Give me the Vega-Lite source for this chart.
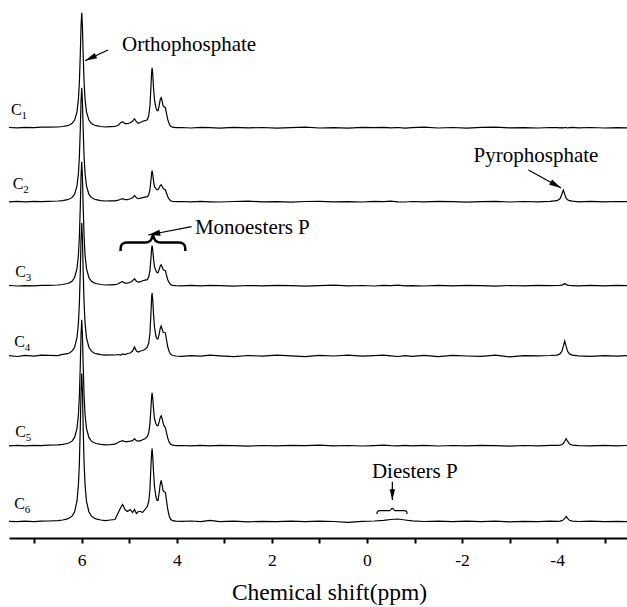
{
"$schema": "https://vega.github.io/schema/vega-lite/v6.json",
"width": 618, "height": 538,
"autosize": {"type": "none"},
"padding": {"left": 9, "top": 0, "right": 0, "bottom": 69},
"background": "white",
"config": {"view": {"stroke": null}, "font": "Liberation Serif"},
"datasets": {
"spectra": [
{"t":"C1","ppm":7.53,"v":410.5},{"t":"C1","ppm":7.35,"v":410.1},{"t":"C1","ppm":7.2,"v":410.6},{"t":"C1","ppm":7.0,"v":410.3},{"t":"C1","ppm":6.85,"v":410.8},
{"t":"C1","ppm":6.7,"v":410.9},{"t":"C1","ppm":6.5,"v":411.0},{"t":"C1","ppm":6.4,"v":411.5},{"t":"C1","ppm":6.3,"v":412.3},{"t":"C1","ppm":6.25,"v":413.2},{"t":"C1","ppm":6.2,"v":414.7},{"t":"C1","ppm":6.15,"v":417.9},{"t":"C1","ppm":6.1,"v":426.2},{"t":"C1","ppm":6.07,"v":438.6},{"t":"C1","ppm":6.05,"v":455.2},{"t":"C1","ppm":6.03,"v":483.9},{"t":"C1","ppm":6.015,"v":511.2},{"t":"C1","ppm":6.0,"v":525.3},{"t":"C1","ppm":5.985,"v":511.2},{"t":"C1","ppm":5.97,"v":483.9},{"t":"C1","ppm":5.95,"v":455.2},{"t":"C1","ppm":5.93,"v":438.6},{"t":"C1","ppm":5.9,"v":426.2},{"t":"C1","ppm":5.85,"v":417.9},{"t":"C1","ppm":5.8,"v":414.7},{"t":"C1","ppm":5.75,"v":413.2},{"t":"C1","ppm":5.7,"v":412.3},{"t":"C1","ppm":5.6,"v":411.5},{"t":"C1","ppm":5.5,"v":411.0},
{"t":"C1","ppm":5.4,"v":411.3},{"t":"C1","ppm":5.3,"v":411.5},{"t":"C1","ppm":5.23,"v":412.8},{"t":"C1","ppm":5.18,"v":415.3},{"t":"C1","ppm":5.14,"v":416.3},{"t":"C1","ppm":5.09,"v":414.3},{"t":"C1","ppm":5.04,"v":414.3},{"t":"C1","ppm":4.98,"v":415.3},{"t":"C1","ppm":4.93,"v":416.8},{"t":"C1","ppm":4.89,"v":419.3},{"t":"C1","ppm":4.85,"v":416.3},{"t":"C1","ppm":4.81,"v":414.8},{"t":"C1","ppm":4.76,"v":415.8},{"t":"C1","ppm":4.72,"v":416.8},{"t":"C1","ppm":4.67,"v":417.3},{"t":"C1","ppm":4.62,"v":418.3},{"t":"C1","ppm":4.59,"v":422.3},{"t":"C1","ppm":4.565,"v":432.3},{"t":"C1","ppm":4.545,"v":450.3},{"t":"C1","ppm":4.53,"v":465.3},{"t":"C1","ppm":4.52,"v":470.3},{"t":"C1","ppm":4.505,"v":463.3},{"t":"C1","ppm":4.49,"v":450.3},{"t":"C1","ppm":4.47,"v":438.3},{"t":"C1","ppm":4.44,"v":430.3},{"t":"C1","ppm":4.415,"v":427.3},{"t":"C1","ppm":4.395,"v":427.3},{"t":"C1","ppm":4.37,"v":432.3},{"t":"C1","ppm":4.35,"v":438.3},{"t":"C1","ppm":4.33,"v":440.3},{"t":"C1","ppm":4.31,"v":437.3},{"t":"C1","ppm":4.29,"v":432.3},{"t":"C1","ppm":4.27,"v":431.3},{"t":"C1","ppm":4.24,"v":430.3},{"t":"C1","ppm":4.22,"v":425.3},{"t":"C1","ppm":4.19,"v":418.3},{"t":"C1","ppm":4.16,"v":414.3},{"t":"C1","ppm":4.13,"v":411.8},{"t":"C1","ppm":4.09,"v":410.8},{"t":"C1","ppm":4.02,"v":410.3},
{"t":"C1","ppm":3.9,"v":410.5},{"t":"C1","ppm":3.7,"v":410.0},{"t":"C1","ppm":3.5,"v":410.6},{"t":"C1","ppm":3.3,"v":410.3},{"t":"C1","ppm":3.1,"v":409.9},{"t":"C1","ppm":2.8,"v":410.7},{"t":"C1","ppm":2.5,"v":410.1},{"t":"C1","ppm":2.2,"v":410.5},{"t":"C1","ppm":1.9,"v":409.9},{"t":"C1","ppm":1.6,"v":410.4},{"t":"C1","ppm":1.3,"v":410.8},{"t":"C1","ppm":1.0,"v":410.0},{"t":"C1","ppm":0.7,"v":410.4},{"t":"C1","ppm":0.4,"v":409.9},{"t":"C1","ppm":0.1,"v":410.6},{"t":"C1","ppm":-0.15,"v":410.3},{"t":"C1","ppm":-0.35,"v":410.7},{"t":"C1","ppm":-0.5,"v":410.1},{"t":"C1","ppm":-0.65,"v":410.5},{"t":"C1","ppm":-0.8,"v":409.8},{"t":"C1","ppm":-0.95,"v":410.4},{"t":"C1","ppm":-1.2,"v":410.8},{"t":"C1","ppm":-1.5,"v":410.0},{"t":"C1","ppm":-1.8,"v":410.5},{"t":"C1","ppm":-2.1,"v":409.9},{"t":"C1","ppm":-2.4,"v":410.6},{"t":"C1","ppm":-2.7,"v":410.9},{"t":"C1","ppm":-3.0,"v":410.1},{"t":"C1","ppm":-3.3,"v":410.4},{"t":"C1","ppm":-3.6,"v":410.0},{"t":"C1","ppm":-3.85,"v":410.5},
{"t":"C1","ppm":-4.0,"v":410.3},{"t":"C1","ppm":-4.06,"v":410.1},{"t":"C1","ppm":-4.1,"v":410.4},{"t":"C1","ppm":-4.13,"v":410.2},{"t":"C1","ppm":-4.16,"v":410.5},{"t":"C1","ppm":-4.19,"v":410.3},{"t":"C1","ppm":-4.22,"v":410.0},{"t":"C1","ppm":-4.26,"v":410.4},{"t":"C1","ppm":-4.32,"v":410.6},
{"t":"C1","ppm":-4.45,"v":410.1},{"t":"C1","ppm":-4.7,"v":410.5},{"t":"C1","ppm":-5.0,"v":410.0},{"t":"C1","ppm":-5.25,"v":410.4},{"t":"C1","ppm":-5.47,"v":410.2},

{"t":"C2","ppm":7.53,"v":336.1},{"t":"C2","ppm":7.35,"v":336.6},{"t":"C2","ppm":7.2,"v":336.2},{"t":"C2","ppm":7.0,"v":336.7},{"t":"C2","ppm":6.85,"v":336.4},
{"t":"C2","ppm":6.7,"v":336.6},{"t":"C2","ppm":6.5,"v":337.0},{"t":"C2","ppm":6.4,"v":337.4},{"t":"C2","ppm":6.3,"v":338.3},{"t":"C2","ppm":6.25,"v":339.2},{"t":"C2","ppm":6.2,"v":340.6},{"t":"C2","ppm":6.15,"v":343.8},{"t":"C2","ppm":6.1,"v":352.0},{"t":"C2","ppm":6.07,"v":364.3},{"t":"C2","ppm":6.05,"v":380.8},{"t":"C2","ppm":6.03,"v":409.3},{"t":"C2","ppm":6.015,"v":436.3},{"t":"C2","ppm":6.0,"v":450.3},{"t":"C2","ppm":5.985,"v":436.3},{"t":"C2","ppm":5.97,"v":409.3},{"t":"C2","ppm":5.95,"v":380.8},{"t":"C2","ppm":5.93,"v":364.3},{"t":"C2","ppm":5.9,"v":352.0},{"t":"C2","ppm":5.85,"v":343.8},{"t":"C2","ppm":5.8,"v":340.6},{"t":"C2","ppm":5.75,"v":339.2},{"t":"C2","ppm":5.7,"v":338.3},{"t":"C2","ppm":5.6,"v":337.4},{"t":"C2","ppm":5.5,"v":337.0},
{"t":"C2","ppm":5.4,"v":337.1},{"t":"C2","ppm":5.3,"v":337.1},{"t":"C2","ppm":5.23,"v":337.8},{"t":"C2","ppm":5.18,"v":338.8},{"t":"C2","ppm":5.14,"v":339.3},{"t":"C2","ppm":5.09,"v":338.3},{"t":"C2","ppm":5.04,"v":338.3},{"t":"C2","ppm":4.98,"v":339.3},{"t":"C2","ppm":4.93,"v":340.3},{"t":"C2","ppm":4.89,"v":342.3},{"t":"C2","ppm":4.85,"v":340.3},{"t":"C2","ppm":4.81,"v":339.3},{"t":"C2","ppm":4.76,"v":339.8},{"t":"C2","ppm":4.72,"v":340.3},{"t":"C2","ppm":4.67,"v":340.8},{"t":"C2","ppm":4.62,"v":341.3},{"t":"C2","ppm":4.59,"v":343.3},{"t":"C2","ppm":4.565,"v":348.3},{"t":"C2","ppm":4.545,"v":357.3},{"t":"C2","ppm":4.53,"v":364.3},{"t":"C2","ppm":4.52,"v":367.3},{"t":"C2","ppm":4.505,"v":363.3},{"t":"C2","ppm":4.49,"v":357.3},{"t":"C2","ppm":4.47,"v":351.3},{"t":"C2","ppm":4.44,"v":349.3},{"t":"C2","ppm":4.415,"v":348.3},{"t":"C2","ppm":4.395,"v":348.3},{"t":"C2","ppm":4.37,"v":350.3},{"t":"C2","ppm":4.35,"v":352.3},{"t":"C2","ppm":4.33,"v":353.3},{"t":"C2","ppm":4.31,"v":351.8},{"t":"C2","ppm":4.29,"v":349.8},{"t":"C2","ppm":4.27,"v":348.8},{"t":"C2","ppm":4.24,"v":348.3},{"t":"C2","ppm":4.22,"v":345.3},{"t":"C2","ppm":4.19,"v":341.3},{"t":"C2","ppm":4.16,"v":338.8},{"t":"C2","ppm":4.13,"v":337.3},{"t":"C2","ppm":4.09,"v":336.7},{"t":"C2","ppm":4.02,"v":336.3},
{"t":"C2","ppm":3.9,"v":336.5},{"t":"C2","ppm":3.7,"v":336.1},{"t":"C2","ppm":3.5,"v":336.6},{"t":"C2","ppm":3.3,"v":336.2},{"t":"C2","ppm":3.1,"v":336.0},{"t":"C2","ppm":2.8,"v":336.5},{"t":"C2","ppm":2.5,"v":336.8},{"t":"C2","ppm":2.2,"v":336.2},{"t":"C2","ppm":1.9,"v":336.4},{"t":"C2","ppm":1.6,"v":335.9},{"t":"C2","ppm":1.3,"v":336.5},{"t":"C2","ppm":1.0,"v":336.7},{"t":"C2","ppm":0.7,"v":336.1},{"t":"C2","ppm":0.4,"v":336.4},{"t":"C2","ppm":0.1,"v":336.0},{"t":"C2","ppm":-0.15,"v":336.6},{"t":"C2","ppm":-0.35,"v":336.3},{"t":"C2","ppm":-0.5,"v":336.8},{"t":"C2","ppm":-0.65,"v":336.2},{"t":"C2","ppm":-0.8,"v":336.0},{"t":"C2","ppm":-0.95,"v":336.5},{"t":"C2","ppm":-1.2,"v":336.1},{"t":"C2","ppm":-1.5,"v":336.7},{"t":"C2","ppm":-1.8,"v":336.3},{"t":"C2","ppm":-2.1,"v":335.9},{"t":"C2","ppm":-2.4,"v":336.4},{"t":"C2","ppm":-2.7,"v":336.6},{"t":"C2","ppm":-3.0,"v":336.0},{"t":"C2","ppm":-3.3,"v":336.5},{"t":"C2","ppm":-3.6,"v":336.2},{"t":"C2","ppm":-3.85,"v":336.6},
{"t":"C2","ppm":-4.0,"v":337.3},{"t":"C2","ppm":-4.06,"v":339.2},{"t":"C2","ppm":-4.1,"v":343.8},{"t":"C2","ppm":-4.13,"v":348.0},{"t":"C2","ppm":-4.16,"v":343.8},{"t":"C2","ppm":-4.19,"v":339.9},{"t":"C2","ppm":-4.22,"v":338.2},{"t":"C2","ppm":-4.26,"v":337.3},{"t":"C2","ppm":-4.32,"v":336.8},
{"t":"C2","ppm":-4.45,"v":336.2},{"t":"C2","ppm":-4.7,"v":336.6},{"t":"C2","ppm":-5.0,"v":336.1},{"t":"C2","ppm":-5.25,"v":336.5},{"t":"C2","ppm":-5.47,"v":336.3},

{"t":"C3","ppm":7.53,"v":252.5},{"t":"C3","ppm":7.35,"v":252.0},{"t":"C3","ppm":7.2,"v":252.4},{"t":"C3","ppm":7.0,"v":252.1},{"t":"C3","ppm":6.85,"v":252.6},
{"t":"C3","ppm":6.7,"v":252.7},{"t":"C3","ppm":6.5,"v":253.0},{"t":"C3","ppm":6.4,"v":253.5},{"t":"C3","ppm":6.3,"v":254.5},{"t":"C3","ppm":6.25,"v":255.4},{"t":"C3","ppm":6.2,"v":257.0},{"t":"C3","ppm":6.15,"v":260.5},{"t":"C3","ppm":6.1,"v":269.4},{"t":"C3","ppm":6.07,"v":282.8},{"t":"C3","ppm":6.05,"v":300.7},{"t":"C3","ppm":6.03,"v":331.7},{"t":"C3","ppm":6.015,"v":361.0},{"t":"C3","ppm":6.0,"v":376.3},{"t":"C3","ppm":5.985,"v":361.0},{"t":"C3","ppm":5.97,"v":331.7},{"t":"C3","ppm":5.95,"v":300.7},{"t":"C3","ppm":5.93,"v":282.8},{"t":"C3","ppm":5.9,"v":269.4},{"t":"C3","ppm":5.85,"v":260.5},{"t":"C3","ppm":5.8,"v":257.0},{"t":"C3","ppm":5.75,"v":255.4},{"t":"C3","ppm":5.7,"v":254.5},{"t":"C3","ppm":5.6,"v":253.5},{"t":"C3","ppm":5.5,"v":253.0},
{"t":"C3","ppm":5.4,"v":253.1},{"t":"C3","ppm":5.3,"v":253.3},{"t":"C3","ppm":5.23,"v":254.3},{"t":"C3","ppm":5.18,"v":255.8},{"t":"C3","ppm":5.14,"v":256.3},{"t":"C3","ppm":5.09,"v":254.8},{"t":"C3","ppm":5.04,"v":254.8},{"t":"C3","ppm":4.98,"v":255.8},{"t":"C3","ppm":4.93,"v":257.3},{"t":"C3","ppm":4.89,"v":259.3},{"t":"C3","ppm":4.85,"v":256.8},{"t":"C3","ppm":4.81,"v":255.8},{"t":"C3","ppm":4.76,"v":256.3},{"t":"C3","ppm":4.72,"v":257.3},{"t":"C3","ppm":4.67,"v":257.8},{"t":"C3","ppm":4.62,"v":258.3},{"t":"C3","ppm":4.59,"v":261.3},{"t":"C3","ppm":4.565,"v":267.3},{"t":"C3","ppm":4.545,"v":279.3},{"t":"C3","ppm":4.53,"v":289.3},{"t":"C3","ppm":4.52,"v":292.3},{"t":"C3","ppm":4.505,"v":287.3},{"t":"C3","ppm":4.49,"v":279.3},{"t":"C3","ppm":4.47,"v":271.3},{"t":"C3","ppm":4.44,"v":267.3},{"t":"C3","ppm":4.415,"v":265.3},{"t":"C3","ppm":4.395,"v":265.3},{"t":"C3","ppm":4.37,"v":268.8},{"t":"C3","ppm":4.35,"v":271.8},{"t":"C3","ppm":4.33,"v":273.3},{"t":"C3","ppm":4.31,"v":271.3},{"t":"C3","ppm":4.29,"v":268.8},{"t":"C3","ppm":4.27,"v":267.8},{"t":"C3","ppm":4.24,"v":267.3},{"t":"C3","ppm":4.22,"v":263.3},{"t":"C3","ppm":4.19,"v":258.3},{"t":"C3","ppm":4.16,"v":255.3},{"t":"C3","ppm":4.13,"v":253.5},{"t":"C3","ppm":4.09,"v":252.7},{"t":"C3","ppm":4.02,"v":252.3},
{"t":"C3","ppm":3.9,"v":252.1},{"t":"C3","ppm":3.7,"v":252.6},{"t":"C3","ppm":3.5,"v":252.2},{"t":"C3","ppm":3.3,"v":252.7},{"t":"C3","ppm":3.1,"v":252.3},{"t":"C3","ppm":2.8,"v":251.9},{"t":"C3","ppm":2.5,"v":252.5},{"t":"C3","ppm":2.2,"v":252.1},{"t":"C3","ppm":1.9,"v":252.7},{"t":"C3","ppm":1.6,"v":252.4},{"t":"C3","ppm":1.3,"v":251.9},{"t":"C3","ppm":1.0,"v":252.3},{"t":"C3","ppm":0.7,"v":252.8},{"t":"C3","ppm":0.4,"v":252.2},{"t":"C3","ppm":0.1,"v":252.5},{"t":"C3","ppm":-0.15,"v":252.0},{"t":"C3","ppm":-0.35,"v":252.6},{"t":"C3","ppm":-0.5,"v":252.3},{"t":"C3","ppm":-0.65,"v":252.8},{"t":"C3","ppm":-0.8,"v":252.1},{"t":"C3","ppm":-0.95,"v":252.4},{"t":"C3","ppm":-1.2,"v":252.0},{"t":"C3","ppm":-1.5,"v":252.6},{"t":"C3","ppm":-1.8,"v":252.2},{"t":"C3","ppm":-2.1,"v":252.7},{"t":"C3","ppm":-2.4,"v":252.3},{"t":"C3","ppm":-2.7,"v":251.9},{"t":"C3","ppm":-3.0,"v":252.5},{"t":"C3","ppm":-3.3,"v":252.1},{"t":"C3","ppm":-3.6,"v":252.6},{"t":"C3","ppm":-3.85,"v":252.3},
{"t":"C3","ppm":-4.0,"v":252.5},{"t":"C3","ppm":-4.06,"v":252.6},{"t":"C3","ppm":-4.1,"v":252.9},{"t":"C3","ppm":-4.13,"v":253.6},{"t":"C3","ppm":-4.16,"v":254.3},{"t":"C3","ppm":-4.19,"v":253.6},{"t":"C3","ppm":-4.22,"v":252.9},{"t":"C3","ppm":-4.26,"v":252.5},{"t":"C3","ppm":-4.32,"v":252.4},
{"t":"C3","ppm":-4.45,"v":252.1},{"t":"C3","ppm":-4.7,"v":252.6},{"t":"C3","ppm":-5.0,"v":252.2},{"t":"C3","ppm":-5.25,"v":252.7},{"t":"C3","ppm":-5.47,"v":252.3},

{"t":"C4","ppm":7.53,"v":182.3},{"t":"C4","ppm":7.35,"v":181.5},{"t":"C4","ppm":7.2,"v":182.6},{"t":"C4","ppm":7.0,"v":181.8},{"t":"C4","ppm":6.85,"v":182.9},
{"t":"C4","ppm":6.7,"v":182.7},{"t":"C4","ppm":6.5,"v":182.4},{"t":"C4","ppm":6.4,"v":183.6},{"t":"C4","ppm":6.3,"v":184.3},{"t":"C4","ppm":6.25,"v":185.3},{"t":"C4","ppm":6.2,"v":187.1},{"t":"C4","ppm":6.15,"v":190.8},{"t":"C4","ppm":6.1,"v":200.4},{"t":"C4","ppm":6.07,"v":214.7},{"t":"C4","ppm":6.05,"v":233.9},{"t":"C4","ppm":6.03,"v":267.1},{"t":"C4","ppm":6.015,"v":298.6},{"t":"C4","ppm":6.0,"v":315.0},{"t":"C4","ppm":5.985,"v":298.6},{"t":"C4","ppm":5.97,"v":267.1},{"t":"C4","ppm":5.95,"v":233.9},{"t":"C4","ppm":5.93,"v":214.7},{"t":"C4","ppm":5.9,"v":200.4},{"t":"C4","ppm":5.85,"v":190.8},{"t":"C4","ppm":5.8,"v":187.1},{"t":"C4","ppm":5.75,"v":185.3},{"t":"C4","ppm":5.7,"v":184.3},{"t":"C4","ppm":5.6,"v":183.3},{"t":"C4","ppm":5.5,"v":182.8},
{"t":"C4","ppm":5.4,"v":183.1},{"t":"C4","ppm":5.3,"v":183.0},{"t":"C4","ppm":5.23,"v":183.5},{"t":"C4","ppm":5.18,"v":183.0},{"t":"C4","ppm":5.14,"v":184.0},{"t":"C4","ppm":5.09,"v":183.5},{"t":"C4","ppm":5.04,"v":184.5},{"t":"C4","ppm":4.98,"v":185.0},{"t":"C4","ppm":4.93,"v":187.0},{"t":"C4","ppm":4.89,"v":191.0},{"t":"C4","ppm":4.85,"v":187.0},{"t":"C4","ppm":4.81,"v":186.0},{"t":"C4","ppm":4.76,"v":187.0},{"t":"C4","ppm":4.72,"v":187.5},{"t":"C4","ppm":4.67,"v":188.5},{"t":"C4","ppm":4.62,"v":191.0},{"t":"C4","ppm":4.59,"v":195.0},{"t":"C4","ppm":4.565,"v":205.0},{"t":"C4","ppm":4.545,"v":224.0},{"t":"C4","ppm":4.53,"v":240.0},{"t":"C4","ppm":4.52,"v":245.0},{"t":"C4","ppm":4.505,"v":237.0},{"t":"C4","ppm":4.49,"v":224.0},{"t":"C4","ppm":4.47,"v":211.0},{"t":"C4","ppm":4.44,"v":202.0},{"t":"C4","ppm":4.415,"v":199.0},{"t":"C4","ppm":4.395,"v":199.0},{"t":"C4","ppm":4.37,"v":204.0},{"t":"C4","ppm":4.35,"v":209.5},{"t":"C4","ppm":4.33,"v":212.0},{"t":"C4","ppm":4.31,"v":209.0},{"t":"C4","ppm":4.29,"v":206.0},{"t":"C4","ppm":4.27,"v":205.5},{"t":"C4","ppm":4.24,"v":205.0},{"t":"C4","ppm":4.22,"v":199.0},{"t":"C4","ppm":4.19,"v":191.0},{"t":"C4","ppm":4.16,"v":186.5},{"t":"C4","ppm":4.13,"v":183.8},{"t":"C4","ppm":4.09,"v":182.5},{"t":"C4","ppm":4.02,"v":182.0},
{"t":"C4","ppm":3.9,"v":181.6},{"t":"C4","ppm":3.7,"v":182.4},{"t":"C4","ppm":3.5,"v":181.8},{"t":"C4","ppm":3.3,"v":182.9},{"t":"C4","ppm":3.1,"v":182.2},{"t":"C4","ppm":2.8,"v":181.3},{"t":"C4","ppm":2.5,"v":182.5},{"t":"C4","ppm":2.2,"v":181.9},{"t":"C4","ppm":1.9,"v":182.8},{"t":"C4","ppm":1.6,"v":182.1},{"t":"C4","ppm":1.3,"v":181.4},{"t":"C4","ppm":1.0,"v":182.6},{"t":"C4","ppm":0.7,"v":182.0},{"t":"C4","ppm":0.4,"v":182.9},{"t":"C4","ppm":0.1,"v":181.8},{"t":"C4","ppm":-0.15,"v":182.3},{"t":"C4","ppm":-0.35,"v":182.9},{"t":"C4","ppm":-0.5,"v":182.2},{"t":"C4","ppm":-0.65,"v":181.5},{"t":"C4","ppm":-0.8,"v":182.4},{"t":"C4","ppm":-0.95,"v":181.7},{"t":"C4","ppm":-1.2,"v":182.6},{"t":"C4","ppm":-1.5,"v":181.3},{"t":"C4","ppm":-1.8,"v":182.7},{"t":"C4","ppm":-2.1,"v":182.0},{"t":"C4","ppm":-2.4,"v":181.6},{"t":"C4","ppm":-2.7,"v":182.8},{"t":"C4","ppm":-3.0,"v":181.2},{"t":"C4","ppm":-3.3,"v":182.4},{"t":"C4","ppm":-3.6,"v":182.1},{"t":"C4","ppm":-3.85,"v":182.5},
{"t":"C4","ppm":-4.0,"v":182.9},{"t":"C4","ppm":-4.06,"v":184.1},{"t":"C4","ppm":-4.1,"v":186.7},{"t":"C4","ppm":-4.13,"v":191.6},{"t":"C4","ppm":-4.16,"v":197.0},{"t":"C4","ppm":-4.19,"v":191.6},{"t":"C4","ppm":-4.22,"v":186.7},{"t":"C4","ppm":-4.26,"v":184.1},{"t":"C4","ppm":-4.32,"v":182.9},
{"t":"C4","ppm":-4.45,"v":182.2},{"t":"C4","ppm":-4.7,"v":181.6},{"t":"C4","ppm":-5.0,"v":182.4},{"t":"C4","ppm":-5.25,"v":181.9},{"t":"C4","ppm":-5.47,"v":182.3},

{"t":"C5","ppm":7.53,"v":92.1},{"t":"C5","ppm":7.35,"v":92.6},{"t":"C5","ppm":7.2,"v":92.2},{"t":"C5","ppm":7.0,"v":92.7},{"t":"C5","ppm":6.85,"v":92.4},
{"t":"C5","ppm":6.7,"v":92.8},{"t":"C5","ppm":6.5,"v":93.1},{"t":"C5","ppm":6.4,"v":93.6},{"t":"C5","ppm":6.3,"v":94.5},{"t":"C5","ppm":6.25,"v":95.5},{"t":"C5","ppm":6.2,"v":97.1},{"t":"C5","ppm":6.15,"v":100.6},{"t":"C5","ppm":6.1,"v":109.7},{"t":"C5","ppm":6.07,"v":123.3},{"t":"C5","ppm":6.05,"v":141.4},{"t":"C5","ppm":6.03,"v":172.9},{"t":"C5","ppm":6.015,"v":202.8},{"t":"C5","ppm":6.0,"v":218.3},{"t":"C5","ppm":5.985,"v":202.8},{"t":"C5","ppm":5.97,"v":172.9},{"t":"C5","ppm":5.95,"v":141.4},{"t":"C5","ppm":5.93,"v":123.3},{"t":"C5","ppm":5.9,"v":109.7},{"t":"C5","ppm":5.85,"v":100.6},{"t":"C5","ppm":5.8,"v":97.1},{"t":"C5","ppm":5.75,"v":95.5},{"t":"C5","ppm":5.7,"v":94.5},{"t":"C5","ppm":5.6,"v":93.6},{"t":"C5","ppm":5.5,"v":93.1},
{"t":"C5","ppm":5.4,"v":93.3},{"t":"C5","ppm":5.3,"v":93.8},{"t":"C5","ppm":5.23,"v":95.8},{"t":"C5","ppm":5.18,"v":96.8},{"t":"C5","ppm":5.14,"v":97.3},{"t":"C5","ppm":5.09,"v":96.3},{"t":"C5","ppm":5.04,"v":96.3},{"t":"C5","ppm":4.98,"v":96.8},{"t":"C5","ppm":4.93,"v":97.3},{"t":"C5","ppm":4.89,"v":99.3},{"t":"C5","ppm":4.85,"v":97.3},{"t":"C5","ppm":4.81,"v":96.8},{"t":"C5","ppm":4.76,"v":97.3},{"t":"C5","ppm":4.72,"v":98.3},{"t":"C5","ppm":4.67,"v":99.3},{"t":"C5","ppm":4.62,"v":101.3},{"t":"C5","ppm":4.59,"v":105.3},{"t":"C5","ppm":4.565,"v":114.3},{"t":"C5","ppm":4.545,"v":129.3},{"t":"C5","ppm":4.53,"v":141.3},{"t":"C5","ppm":4.52,"v":145.3},{"t":"C5","ppm":4.505,"v":139.3},{"t":"C5","ppm":4.49,"v":129.3},{"t":"C5","ppm":4.47,"v":119.3},{"t":"C5","ppm":4.44,"v":114.3},{"t":"C5","ppm":4.415,"v":112.3},{"t":"C5","ppm":4.395,"v":112.3},{"t":"C5","ppm":4.37,"v":116.3},{"t":"C5","ppm":4.35,"v":120.3},{"t":"C5","ppm":4.33,"v":122.3},{"t":"C5","ppm":4.31,"v":119.8},{"t":"C5","ppm":4.29,"v":115.3},{"t":"C5","ppm":4.27,"v":112.3},{"t":"C5","ppm":4.24,"v":110.3},{"t":"C5","ppm":4.22,"v":105.8},{"t":"C5","ppm":4.19,"v":99.8},{"t":"C5","ppm":4.16,"v":95.9},{"t":"C5","ppm":4.13,"v":93.8},{"t":"C5","ppm":4.09,"v":92.8},{"t":"C5","ppm":4.02,"v":92.3},
{"t":"C5","ppm":3.9,"v":92.5},{"t":"C5","ppm":3.7,"v":92.1},{"t":"C5","ppm":3.5,"v":92.6},{"t":"C5","ppm":3.3,"v":92.2},{"t":"C5","ppm":3.1,"v":92.7},{"t":"C5","ppm":2.8,"v":92.3},{"t":"C5","ppm":2.5,"v":91.9},{"t":"C5","ppm":2.2,"v":92.5},{"t":"C5","ppm":1.9,"v":92.1},{"t":"C5","ppm":1.6,"v":92.6},{"t":"C5","ppm":1.3,"v":92.3},{"t":"C5","ppm":1.0,"v":92.8},{"t":"C5","ppm":0.7,"v":92.2},{"t":"C5","ppm":0.4,"v":92.5},{"t":"C5","ppm":0.1,"v":92.0},{"t":"C5","ppm":-0.15,"v":92.4},{"t":"C5","ppm":-0.35,"v":92.9},{"t":"C5","ppm":-0.5,"v":92.3},{"t":"C5","ppm":-0.65,"v":92.1},{"t":"C5","ppm":-0.8,"v":92.6},{"t":"C5","ppm":-0.95,"v":92.2},{"t":"C5","ppm":-1.2,"v":92.7},{"t":"C5","ppm":-1.5,"v":92.0},{"t":"C5","ppm":-1.8,"v":92.5},{"t":"C5","ppm":-2.1,"v":92.1},{"t":"C5","ppm":-2.4,"v":92.6},{"t":"C5","ppm":-2.7,"v":92.3},{"t":"C5","ppm":-3.0,"v":91.9},{"t":"C5","ppm":-3.3,"v":92.5},{"t":"C5","ppm":-3.6,"v":92.2},{"t":"C5","ppm":-3.85,"v":92.6},
{"t":"C5","ppm":-4.0,"v":92.6},{"t":"C5","ppm":-4.06,"v":92.9},{"t":"C5","ppm":-4.1,"v":93.5},{"t":"C5","ppm":-4.13,"v":94.5},{"t":"C5","ppm":-4.16,"v":96.8},{"t":"C5","ppm":-4.19,"v":99.3},{"t":"C5","ppm":-4.22,"v":96.8},{"t":"C5","ppm":-4.26,"v":94.0},{"t":"C5","ppm":-4.32,"v":92.9},
{"t":"C5","ppm":-4.45,"v":92.4},{"t":"C5","ppm":-4.7,"v":92.1},{"t":"C5","ppm":-5.0,"v":92.6},{"t":"C5","ppm":-5.25,"v":92.2},{"t":"C5","ppm":-5.47,"v":92.5},

{"t":"C6","ppm":7.53,"v":16.7},{"t":"C6","ppm":7.35,"v":16.3},{"t":"C6","ppm":7.2,"v":16.8},{"t":"C6","ppm":7.0,"v":16.4},{"t":"C6","ppm":6.85,"v":16.9},
{"t":"C6","ppm":6.7,"v":17.0},{"t":"C6","ppm":6.5,"v":17.4},{"t":"C6","ppm":6.4,"v":18.0},{"t":"C6","ppm":6.3,"v":19.1},{"t":"C6","ppm":6.25,"v":20.2},{"t":"C6","ppm":6.2,"v":22.1},{"t":"C6","ppm":6.15,"v":26.3},{"t":"C6","ppm":6.1,"v":36.9},{"t":"C6","ppm":6.07,"v":52.9},{"t":"C6","ppm":6.05,"v":74.2},{"t":"C6","ppm":6.03,"v":111.2},{"t":"C6","ppm":6.015,"v":146.3},{"t":"C6","ppm":6.0,"v":164.5},{"t":"C6","ppm":5.985,"v":146.3},{"t":"C6","ppm":5.97,"v":111.2},{"t":"C6","ppm":5.95,"v":74.2},{"t":"C6","ppm":5.93,"v":52.9},{"t":"C6","ppm":5.9,"v":36.9},{"t":"C6","ppm":5.85,"v":26.3},{"t":"C6","ppm":5.8,"v":22.1},{"t":"C6","ppm":5.75,"v":20.2},{"t":"C6","ppm":5.7,"v":19.1},{"t":"C6","ppm":5.6,"v":18.0},{"t":"C6","ppm":5.5,"v":17.4},
{"t":"C6","ppm":5.4,"v":18.0},{"t":"C6","ppm":5.3,"v":18.5},{"t":"C6","ppm":5.23,"v":25.5},{"t":"C6","ppm":5.18,"v":30.5},{"t":"C6","ppm":5.14,"v":33.5},{"t":"C6","ppm":5.09,"v":28.5},{"t":"C6","ppm":5.04,"v":26.5},{"t":"C6","ppm":4.98,"v":28.5},{"t":"C6","ppm":4.93,"v":25.5},{"t":"C6","ppm":4.89,"v":28.5},{"t":"C6","ppm":4.85,"v":24.5},{"t":"C6","ppm":4.81,"v":26.5},{"t":"C6","ppm":4.76,"v":26.5},{"t":"C6","ppm":4.72,"v":25.5},{"t":"C6","ppm":4.67,"v":28.5},{"t":"C6","ppm":4.62,"v":31.5},{"t":"C6","ppm":4.59,"v":36.5},{"t":"C6","ppm":4.565,"v":48.5},{"t":"C6","ppm":4.545,"v":71.5},{"t":"C6","ppm":4.53,"v":84.5},{"t":"C6","ppm":4.52,"v":89.5},{"t":"C6","ppm":4.505,"v":80.5},{"t":"C6","ppm":4.49,"v":66.5},{"t":"C6","ppm":4.47,"v":51.5},{"t":"C6","ppm":4.44,"v":41.5},{"t":"C6","ppm":4.415,"v":37.5},{"t":"C6","ppm":4.395,"v":37.5},{"t":"C6","ppm":4.37,"v":45.5},{"t":"C6","ppm":4.35,"v":53.5},{"t":"C6","ppm":4.33,"v":57.5},{"t":"C6","ppm":4.31,"v":53.5},{"t":"C6","ppm":4.29,"v":47.5},{"t":"C6","ppm":4.27,"v":46.5},{"t":"C6","ppm":4.24,"v":45.5},{"t":"C6","ppm":4.22,"v":38.5},{"t":"C6","ppm":4.19,"v":28.5},{"t":"C6","ppm":4.16,"v":22.0},{"t":"C6","ppm":4.13,"v":18.7},{"t":"C6","ppm":4.09,"v":17.3},{"t":"C6","ppm":4.02,"v":16.8},
{"t":"C6","ppm":3.9,"v":16.6},{"t":"C6","ppm":3.7,"v":17.0},{"t":"C6","ppm":3.5,"v":16.4},{"t":"C6","ppm":3.3,"v":17.6},{"t":"C6","ppm":3.1,"v":16.3},{"t":"C6","ppm":2.8,"v":16.8},{"t":"C6","ppm":2.5,"v":16.2},{"t":"C6","ppm":2.2,"v":16.7},{"t":"C6","ppm":1.9,"v":16.3},{"t":"C6","ppm":1.6,"v":16.8},{"t":"C6","ppm":1.3,"v":16.4},{"t":"C6","ppm":1.0,"v":16.9},{"t":"C6","ppm":0.7,"v":16.5},{"t":"C6","ppm":0.4,"v":15.6},{"t":"C6","ppm":0.1,"v":16.6},{"t":"C6","ppm":-0.15,"v":17.0},{"t":"C6","ppm":-0.35,"v":17.7},{"t":"C6","ppm":-0.5,"v":18.5},{"t":"C6","ppm":-0.65,"v":19.0},{"t":"C6","ppm":-0.8,"v":18.0},{"t":"C6","ppm":-0.95,"v":17.1},{"t":"C6","ppm":-1.2,"v":16.5},{"t":"C6","ppm":-1.5,"v":16.9},{"t":"C6","ppm":-1.8,"v":16.3},{"t":"C6","ppm":-2.1,"v":16.8},{"t":"C6","ppm":-2.4,"v":16.4},{"t":"C6","ppm":-2.7,"v":16.9},{"t":"C6","ppm":-3.0,"v":16.2},{"t":"C6","ppm":-3.3,"v":16.7},{"t":"C6","ppm":-3.6,"v":16.4},{"t":"C6","ppm":-3.85,"v":16.8},
{"t":"C6","ppm":-4.0,"v":16.6},{"t":"C6","ppm":-4.06,"v":16.9},{"t":"C6","ppm":-4.1,"v":17.3},{"t":"C6","ppm":-4.13,"v":18.1},{"t":"C6","ppm":-4.16,"v":19.7},{"t":"C6","ppm":-4.19,"v":21.5},{"t":"C6","ppm":-4.22,"v":19.7},{"t":"C6","ppm":-4.26,"v":17.7},{"t":"C6","ppm":-4.32,"v":16.9},
{"t":"C6","ppm":-4.45,"v":16.5},{"t":"C6","ppm":-4.7,"v":16.8},{"t":"C6","ppm":-5.0,"v":16.3},{"t":"C6","ppm":-5.25,"v":16.7},{"t":"C6","ppm":-5.47,"v":16.4}
],
"labels": [
{"t":"C1","ppm":7.49,"v":423,"letter":"C","sub":"1"},
{"t":"C2","ppm":7.45,"v":349,"letter":"C","sub":"2"},
{"t":"C3","ppm":7.40,"v":261.3,"letter":"C","sub":"3"},
{"t":"C4","ppm":7.42,"v":191.3,"letter":"C","sub":"4"},
{"t":"C5","ppm":7.40,"v":100.7,"letter":"C","sub":"5"},
{"t":"C6","ppm":7.42,"v":29,"letter":"C","sub":"6"}
],
"notes": [
{"label":"Orthophosphate","ppm":5.153,"v":487.3},
{"label":"Pyrophosphate","ppm":-2.242,"v":375.7},
{"label":"Monoesters P","ppm":3.62,"v":304},
{"label":"Diesters P","ppm":-0.105,"v":59.7}
],
"arrows": [
{"name":"ortho","ppm":5.447,"v":488,"ppm2":5.931,"v2":477.3},
{"name":"pyro","ppm":-3.397,"v":368,"ppm2":-4.084,"v2":350},
{"name":"mono","ppm":3.689,"v":311.3,"ppm2":4.601,"v2":303},
{"name":"di","ppm":-0.534,"v":56.3,"ppm2":-0.534,"v2":38}
],
"braces": [
{"b":"mono","ppm":5.185,"v":287},{"b":"mono","ppm":5.174,"v":292},{"b":"mono","ppm":5.132,"v":294.5},{"b":"mono","ppm":5.048,"v":295.5},{"b":"mono","ppm":4.649,"v":295.5},{"b":"mono","ppm":4.565,"v":297},{"b":"mono","ppm":4.523,"v":300},{"b":"mono","ppm":4.502,"v":302.5},{"b":"mono","ppm":4.481,"v":300},{"b":"mono","ppm":4.439,"v":297},{"b":"mono","ppm":4.355,"v":295.5},{"b":"mono","ppm":3.956,"v":295.5},{"b":"mono","ppm":3.872,"v":294.5},{"b":"mono","ppm":3.83,"v":292},{"b":"mono","ppm":3.819,"v":287},
{"b":"di","ppm":-0.204,"v":24},{"b":"di","ppm":-0.225,"v":26.5},{"b":"di","ppm":-0.267,"v":27.3},{"b":"di","ppm":-0.477,"v":27.3},{"b":"di","ppm":-0.534,"v":29.7},{"b":"di","ppm":-0.59,"v":27.3},{"b":"di","ppm":-0.792,"v":27.3},{"b":"di","ppm":-0.834,"v":26.5},{"b":"di","ppm":-0.845,"v":24}
]
},
"layer": [
{"data": {"name": "spectra"},
 "mark": {"type": "line", "stroke": "#000", "strokeWidth": 1.2},
 "encoding": {
  "x": {"field": "ppm", "type": "quantitative", "title": "Chemical shift(ppm)",
        "scale": {"domain": [-5.47, 7.53], "reverse": true, "nice": false, "zero": false},
        "axis": {"values": [7,6,5,4,3,2,1,0,-1,-2,-3,-4,-5],
                 "labelExpr": "datum.value % 2 == 0 ? replace(datum.label, '\u2212', '-') : ''",
                 "grid": false, "domainColor": "#000", "domainWidth": 2, "tickColor": "#000", "tickWidth": 2, "tickSize": 5,
                 "labelFont": "Liberation Serif", "labelFontSize": 17.5, "labelColor": "#000", "labelPadding": 8, "labelOverlap": false, "labelFlush": false,
                 "titleFont": "Liberation Serif", "titleFontSize": 23.5, "titleFontWeight": "normal", "titleColor": "#000",
                 "titleX": 320, "titleY": 61, "titleBaseline": "alphabetic", "titleAlign": "center"}},
  "y": {"field": "v", "type": "quantitative", "scale": {"domain": [0, 538], "nice": false, "zero": false}, "axis": null},
  "detail": {"field": "t"}
 }},
{"data": {"name": "labels"},
 "mark": {"type": "text", "align": "left", "baseline": "alphabetic", "font": "Liberation Serif", "fontSize": 16, "color": "#000"},
 "encoding": {"x": {"field": "ppm", "type": "quantitative"}, "y": {"field": "v", "type": "quantitative", "axis": null}, "text": {"field": "letter"}}},
{"data": {"name": "labels"},
 "mark": {"type": "text", "align": "left", "baseline": "alphabetic", "font": "Liberation Serif", "fontSize": 11, "color": "#000", "dx": 10.5, "dy": 4},
 "encoding": {"x": {"field": "ppm", "type": "quantitative"}, "y": {"field": "v", "type": "quantitative", "axis": null}, "text": {"field": "sub"}}},
{"data": {"name": "notes"},
 "mark": {"type": "text", "align": "left", "baseline": "alphabetic", "font": "Liberation Serif", "fontSize": 21, "color": "#000"},
 "encoding": {"x": {"field": "ppm", "type": "quantitative"}, "y": {"field": "v", "type": "quantitative", "axis": null}, "text": {"field": "label"}}},
{"data": {"name": "arrows"},
 "mark": {"type": "rule", "color": "#000", "strokeWidth": 1.2},
 "encoding": {"x": {"field": "ppm", "type": "quantitative"}, "y": {"field": "v", "type": "quantitative", "axis": null}, "x2": {"field": "ppm2"}, "y2": {"field": "v2"}}},
{"data": {"name": "arrows"}, "transform": [{"filter": "datum.name == 'ortho'"}],
 "mark": {"type": "point", "shape": "M0,0L0.6,2.4L-0.6,2.4Z", "filled": true, "color": "#000", "opacity": 1, "size": 100, "angle": 245},
 "encoding": {"x": {"field": "ppm2", "type": "quantitative"}, "y": {"field": "v2", "type": "quantitative", "axis": null}}},
{"data": {"name": "arrows"}, "transform": [{"filter": "datum.name == 'pyro'"}],
 "mark": {"type": "point", "shape": "M0,0L0.6,2.4L-0.6,2.4Z", "filled": true, "color": "#000", "opacity": 1, "size": 100, "angle": 119},
 "encoding": {"x": {"field": "ppm2", "type": "quantitative"}, "y": {"field": "v2", "type": "quantitative", "axis": null}}},
{"data": {"name": "arrows"}, "transform": [{"filter": "datum.name == 'mono'"}],
 "mark": {"type": "point", "shape": "M0,0L0.6,2.4L-0.6,2.4Z", "filled": true, "color": "#000", "opacity": 1, "size": 100, "angle": 259},
 "encoding": {"x": {"field": "ppm2", "type": "quantitative"}, "y": {"field": "v2", "type": "quantitative", "axis": null}}},
{"data": {"name": "arrows"}, "transform": [{"filter": "datum.name == 'di'"}],
 "mark": {"type": "point", "shape": "M0,0L0.6,2.4L-0.6,2.4Z", "filled": true, "color": "#000", "opacity": 1, "size": 80, "angle": 180},
 "encoding": {"x": {"field": "ppm2", "type": "quantitative"}, "y": {"field": "v2", "type": "quantitative", "axis": null}}},
{"data": {"name": "braces"},
 "mark": {"type": "line", "color": "#000", "interpolate": "monotone"},
 "encoding": {"x": {"field": "ppm", "type": "quantitative"}, "y": {"field": "v", "type": "quantitative", "axis": null}, "detail": {"field": "b"},
  "strokeWidth": {"condition": {"test": "datum.b == 'mono'", "value": 2.5}, "value": 1.2}}}
]
}
